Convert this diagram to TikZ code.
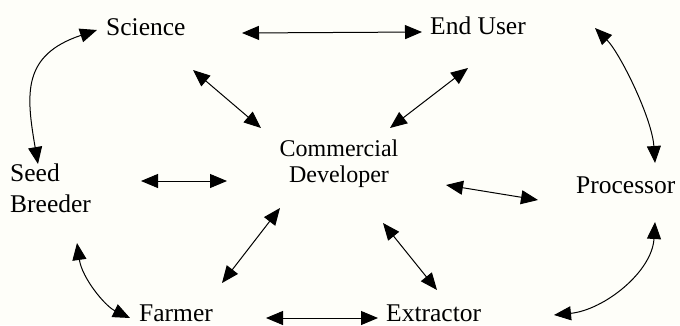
\documentclass[tikz,border=0pt]{standalone}
\usepackage{fontspec}
\setmainfont{Liberation Serif}
\usetikzlibrary{arrows.meta}
\definecolor{paper}{RGB}{254,254,249}

\begin{document}
\begin{tikzpicture}[x=1pt,y=-1pt,
    arr/.style={{Triangle[length=17pt,width=14pt]}-{Triangle[length=17pt,width=14pt]},line width=1pt},
    actor/.style={inner sep=0pt,font=\fontsize{25.5}{31}\selectfont}]
    \fill[paper] (0,0) rectangle (680,325);
    \useasboundingbox (0,0) rectangle (680,325);
    % the actors
    \node[actor,anchor=base west] (sci) at (106,35) {Science};
    \node[actor,anchor=base west] (end) at (430,34) {End User};
    \node[actor,anchor=north west,align=left] (seed) at (10,164) {Seed\\Breeder};
    \node[actor,anchor=north,align=center,font=\fontsize{24}{26}\selectfont] (com) at (339,140) {Commercial\\Developer};
    \node[actor,anchor=base west] (proc) at (576,193) {Processor};
    \node[actor,anchor=base west] (farm) at (139,321) {Farmer};
    \node[actor,anchor=base west] (ext) at (386,321) {Extractor};
    % straight links
    \path[arr]
        ([shift={(136,-2)}]sci.base west) edge ([shift={(-8,-2)}]end.base west)
        ([shift={(87,35)}]sci.base west) edge ([shift={(-78,-12)}]com.north)
        ([shift={(38,34)}]end.base west) edge ([shift={(51,-12)}]com.north)
        ([shift={(131,17)}]seed.north west) edge ([shift={(-112,41)}]com.north)
        ([shift={(107,45)}]com.north) edge ([shift={(-38,7)}]proc.base west)
        ([shift={(-59,68)}]com.north) edge ([shift={(83,-38)}]farm.base west)
        ([shift={(44,83)}]com.north) edge ([shift={(51,-31)}]ext.base west)
        ([shift={(127,-3)}]farm.base west) edge ([shift={(-8,-3)}]ext.base west);
    % curved links round the outside
    \draw[arr] ([shift={(-9,-5)}]sci.base west) .. controls +(-75,25) and +(-12,-70) .. ([shift={(28,0)}]seed.north west);
    \draw[arr] ([shift={(165,-6)}]end.base west) .. controls +(25,25) and +(-3,-45) .. ([shift={(79,-30)}]proc.base west);
    \draw[arr] ([shift={(67,79)}]seed.north west) .. controls +(5,35) and +(-25,-12) .. ([shift={(-9,-3)}]farm.base west);
    \draw[arr] ([shift={(168,-6)}]ext.base west) .. controls +(50,-5) and +(-3,50) .. ([shift={(79,29)}]proc.base west);
\end{tikzpicture}
\end{document}
